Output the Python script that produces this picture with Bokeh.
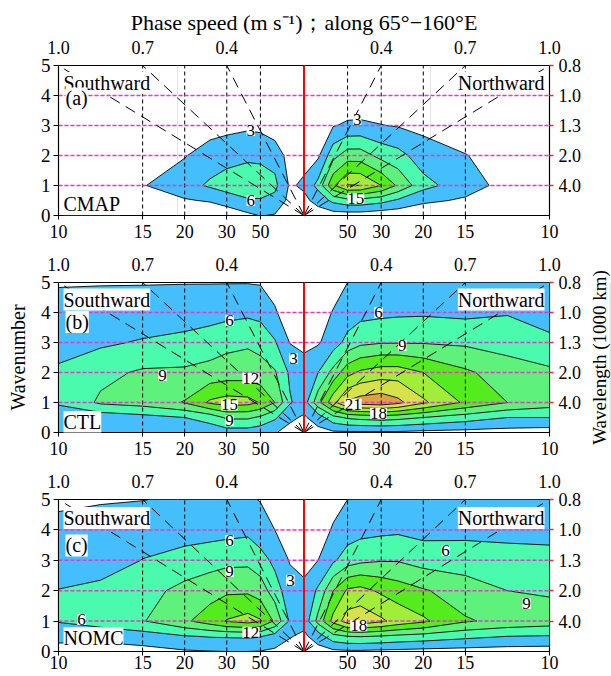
import numpy as np
from bokeh.plotting import figure
from bokeh.layouts import column, row
from bokeh.models import (LinearAxis, FixedTicker, Label, LabelSet,
                          ColumnDataSource, Span, Range1d)
from bokeh.core.properties import value
from bokeh.embed import file_html
from bokeh.resources import INLINE

SERIF = "Liberation Serif"

# ---------------------------------------------------------------- data
# Column periods (days): southward side, the annual cut at the red line,
# northward side.  Rows are meridional wavenumbers.
PERIOD_SOUTH = [10, 12, 15, 20, 25, 30, 40, 50, 70, 120]
PERIOD_CUT = 365
PERIOD_NORTH = [120, 70, 50, 40, 30, 25, 20, 15, 12, 10]
WAVENUMBER = [0, 0.5, 1, 2, 3, 4, 5]

# spectral power, one list per wavenumber row (S10 ... S120, cut, N120 ... N10)
CMAP_POWER = [
    [0.0, 0.0, 0.0, 0.2, 0.3, 1.1, 2.4, 3.1, 2.8, 1.5, 1.5, 1.5, 1.5, 1.5, 1.5, 1.0, 1.0, 0.7, 1.0, 0.5, 0.3],
    [0.5, 0.8, 1.5, 2.7, 3.3, 4.3, 5.6, 5.7, 5.0, 2.2, 2.3, 4.0, 6.8, 8.0, 8.0, 7.0, 5.5, 3.6, 2.6, 1.4, 0.8],
    [1.0, 1.5, 2.8, 5.0, 6.4, 7.4, 8.3, 8.0, 6.8, 2.6, 3.5, 7.0, 14.5, 18.2, 18.0, 15.0, 11.5, 7.0, 4.3, 2.0, 1.0],
    [0.8, 1.2, 2.0, 2.8, 4.6, 4.9, 5.3, 5.2, 4.8, 1.8, 2.0, 2.5, 8.0, 10.5, 10.5, 8.0, 7.0, 4.5, 3.1, 1.8, 1.0],
    [0.5, 0.8, 1.2, 1.5, 1.5, 2.1, 2.5, 2.3, 1.2, 1.0, 1.0, 0.8, 2.8, 3.5, 3.6, 3.1, 2.8, 2.2, 1.5, 1.0, 0.6],
    [0.4, 0.5, 0.6, 0.8, 0.9, 1.0, 1.1, 1.0, 0.7, 0.5, 0.5, 0.3, 0.5, 0.6, 0.6, 0.6, 0.6, 0.6, 0.6, 0.5, 0.4],
    [0.3, 0.3, 0.3, 0.3, 0.3, 0.3, 0.3, 0.3, 0.3, 0.3, 0.3, 0.3, 0.3, 0.3, 0.3, 0.3, 0.3, 0.3, 0.3, 0.3, 0.3],
]
CTL_POWER = [
    [3.3, 3.3, 3.4, 3.8, 4.2, 4.5, 4.5, 4.0, 3.2, 2.0, 1.0, 2.0, 2.5, 2.5, 2.5, 2.5, 2.5, 2.2, 2.0, 1.8, 1.5],
    [4.6, 4.2, 5.0, 6.0, 7.2, 9.5, 9.5, 8.5, 6.5, 3.6, 2.6, 4.5, 8.0, 9.5, 10.0, 10.5, 10.0, 9.0, 7.5, 6.0, 6.0],
    [6.3, 9.5, 10.3, 12.2, 15.5, 16.3, 16.0, 14.8, 12.0, 6.3, 4.5, 11.0, 17.0, 21.5, 22.5, 23.0, 21.8, 18.5, 14.5, 12.0, 10.5],
    [6.8, 8.2, 9.4, 9.5, 10.0, 10.4, 10.5, 10.0, 9.3, 5.5, 3.9, 6.0, 10.0, 14.0, 15.5, 16.5, 16.5, 15.0, 12.5, 10.5, 9.6],
    [4.1, 5.5, 6.3, 6.8, 7.5, 8.2, 8.6, 8.2, 6.3, 2.9, 2.5, 2.7, 4.5, 7.0, 8.3, 8.8, 8.8, 8.8, 8.5, 7.8, 6.6],
    [3.5, 3.8, 4.0, 4.6, 4.8, 5.1, 5.4, 5.0, 3.3, 1.5, 1.0, 1.5, 3.2, 4.2, 5.0, 5.3, 5.5, 5.6, 5.3, 5.8, 4.8],
    [2.9, 2.9, 2.9, 2.9, 2.9, 2.9, 2.9, 2.8, 2.0, 1.0, 0.5, 1.0, 1.5, 3.0, 3.4, 3.5, 3.5, 3.5, 3.5, 3.5, 3.5],
]
NOMC_POWER = [
    [2.0, 1.8, 2.0, 2.7, 2.9, 3.0, 3.0, 2.9, 2.5, 1.8, 1.0, 1.8, 2.3, 2.5, 2.5, 2.3, 2.2, 2.0, 1.8, 1.6, 1.5],
    [3.8, 3.8, 4.6, 5.8, 6.2, 6.3, 6.4, 6.2, 4.8, 3.2, 2.4, 4.5, 8.0, 9.0, 9.2, 8.8, 8.3, 7.8, 6.8, 6.0, 5.8],
    [6.2, 7.5, 8.8, 11.5, 13.5, 15.2, 16.2, 15.3, 11.5, 5.5, 4.0, 10.0, 16.0, 19.5, 20.0, 18.5, 17.0, 15.5, 12.3, 11.2, 10.5],
    [6.1, 7.0, 8.0, 9.8, 10.8, 11.5, 11.5, 10.5, 7.5, 4.2, 3.6, 6.5, 12.0, 15.5, 16.0, 14.5, 13.5, 12.3, 10.5, 9.0, 8.6],
    [4.2, 4.1, 6.1, 7.3, 7.8, 8.2, 8.3, 7.3, 5.2, 2.8, 2.2, 3.0, 5.5, 7.5, 8.3, 8.8, 8.8, 7.8, 7.5, 7.3, 7.0],
    [3.3, 3.5, 4.2, 4.5, 4.8, 5.0, 5.3, 4.0, 3.0, 1.5, 1.0, 1.6, 3.3, 4.5, 5.0, 5.3, 5.5, 5.0, 5.2, 5.0, 5.0],
    [2.8, 2.9, 2.95, 3.3, 3.4, 3.4, 3.3, 2.9, 2.0, 1.0, 0.5, 1.0, 2.0, 3.0, 3.4, 3.4, 3.4, 3.4, 3.3, 3.3, 3.4],
]

LEVELS = [3, 6, 9, 12, 15, 18, 21, 24]
FILL_COLORS = ["#44BEFD", "#4BFBAD", "#5EF17C", "#54EC1E", "#A2EC3A", "#D5E24A", "#DDA13E"]

# contour labels: level, signed period (negative = southward), wavenumber
CMAP_TAGS = ([3, 6, 3, 15], [-42, -42, 42, 43], [2.83, 0.5, 3.2, 0.57])
CTL_TAGS = ([6, 9, 12, 15, 9, 3, 6, 9, 21, 18],
            [-31, -17, -42, -31, -31, -145, 31, 24, 45, 31],
            [3.73, 1.9, 1.8, 0.92, 0.4, 2.47, 4.0, 2.9, 0.95, 0.63])
NOMC_TAGS = ([6, 9, 12, 3, 6, 6, 9, 18],
             [-31, -31, -42, -123, -11, 17, 11, 41],
             [3.65, 2.63, 0.63, 2.34, 1.05, 3.32, 1.58, 0.85])

PERIOD_TICKS = [10, 15, 20, 30, 50]
PERIOD_GUIDES = [15, 20, 30, 50]
PHASE_PERIODS = [10, 15, 30]
PHASE_SPEED_LABELS = ["1.0", "0.7", "0.4"]
WAVELENGTH_WAVENUMBER = [1, 2, 3, 4, 5]
WAVELENGTH_LABELS = ["4.0", "2.0", "1.3", "1.0", "0.8"]


# ------------------------------------------------------------ helpers
def freq_offset(period):
    """Frequency (cpd) measured from the annual cut."""
    return 1.0 / period - 1.0 / PERIOD_CUT


def x_of(signed_period):
    sign = -1.0 if signed_period < 0 else 1.0
    return sign * freq_offset(abs(signed_period))


X_COLS = [x_of(-P) for P in PERIOD_SOUTH] + [0.0] + [x_of(P) for P in PERIOD_NORTH]
X_MIN, X_MAX = X_COLS[0], X_COLS[-1]
FRAME_W = 491
PX = (X_MAX - X_MIN) / FRAME_W      # data units per screen pixel along x


def style_axis(ax, size):
    ax.major_label_text_font = SERIF
    ax.major_label_text_font_size = size
    ax.major_label_text_color = "black"
    ax.axis_label_text_font = SERIF
    ax.axis_label_text_font_style = "normal"
    ax.axis_label_text_color = "black"
    ax.minor_tick_line_color = None
    ax.major_tick_in = 0
    ax.axis_line_color = "black"


def box_label(p, text, x, y, align):
    p.add_layout(Label(x=x, y=y, text=text, text_font=SERIF, text_font_size="20px",
                       text_align=align, text_baseline="top", text_color="black",
                       background_fill_color="white", background_fill_alpha=1.0))


def build_panel(power, tags, tag_text, name, width, height, border_top, border_bottom,
                tick_standoff, title=None, ylabel=None,
                tag_y=4.0, head_y=4.78, name_y=0.76):
    p = figure(width=width, height=height,
               x_range=Range1d(X_MIN, X_MAX), y_range=Range1d(0, 5),
               x_axis_location=None, y_axis_location=None,
               toolbar_location=None, output_backend="svg",
               min_border_left=58, min_border_right=width - 58 - FRAME_W,
               min_border_top=border_top, min_border_bottom=border_bottom)
    p.outline_line_color = "black"
    p.outline_line_width = 1.2
    p.background_fill_color = "white"
    p.border_fill_color = "white"

    # filled power contours
    p.contour(x=X_COLS, y=WAVENUMBER, z=np.array(power, dtype=float),
              levels=LEVELS, fill_color=FILL_COLORS,
              line_color="black", line_width=0.9)

    # period guides
    gx = [x_of(-P) for P in PERIOD_GUIDES] + [x_of(P) for P in PERIOD_GUIDES]
    p.segment(x0=gx, y0=[0] * len(gx), x1=gx, y1=[5] * len(gx),
              line_color="black", line_dash="4 3", line_width=1)
    # wavelength guides
    kk = WAVELENGTH_WAVENUMBER[:-1]
    p.segment(x0=[X_MIN] * len(kk), y0=kk, x1=[X_MAX] * len(kk), y1=kk,
              line_color="#E23BC8", line_dash="4 2", line_width=1.5)
    # constant phase-speed lines from the origin
    ends = [x_of(-P) for P in PHASE_PERIODS] + [x_of(P) for P in PHASE_PERIODS]
    p.segment(x0=[0.0] * len(ends), y0=[0] * len(ends), x1=ends, y1=[5] * len(ends),
              line_color="black", line_dash="11 7", line_width=1)
    p.add_layout(Span(location=0, dimension="height", line_color="red", line_width=2))

    # contour level labels
    lv, per, kw = tags
    src = ColumnDataSource(dict(x=[x_of(s) for s in per], y=kw, t=[str(v) for v in lv]))
    p.add_layout(LabelSet(x="x", y="y", text="t", source=src,
                          text_font=value(SERIF), text_font_size="17px",
                          text_align="center", text_baseline="middle",
                          text_color="black",
                          background_fill_color="white", background_fill_alpha=1.0))

    # panel annotations
    box_label(p, "Southward", X_MIN + 5 * PX, head_y, "left")
    box_label(p, tag_text, X_MIN + 7 * PX, tag_y, "left")
    box_label(p, name, X_MIN + 5 * PX, name_y, "left")
    box_label(p, "Northward", X_MAX - 5 * PX, head_y, "right")

    # bottom axis: period (days)
    tick_x = [x_of(-P) for P in PERIOD_TICKS] + [x_of(P) for P in PERIOD_TICKS[::-1]]
    tick_t = [str(P) for P in PERIOD_TICKS] + [str(P) for P in PERIOD_TICKS[::-1]]
    bottom = LinearAxis(ticker=FixedTicker(ticks=tick_x, minor_ticks=[]),
                        major_label_overrides=dict(zip(tick_x, tick_t)))
    style_axis(bottom, "18px")
    bottom.major_tick_out = 4
    bottom.major_label_standoff = tick_standoff
    p.add_layout(bottom, "below")

    # top axis: phase speed
    top_x = [x_of(-P) for P in PHASE_PERIODS] + [x_of(P) for P in PHASE_PERIODS]
    top_t = PHASE_SPEED_LABELS + PHASE_SPEED_LABELS
    top = LinearAxis(ticker=FixedTicker(ticks=top_x, minor_ticks=[]),
                     major_label_overrides=dict(zip(top_x, top_t)))
    style_axis(top, "18px")
    top.major_tick_out = 0
    top.major_tick_line_color = None
    top.axis_line_color = None
    top.major_label_standoff = 12
    if title:
        top.axis_label = title
        top.axis_label_text_font_size = "22px"
        top.axis_label_standoff = 3
    p.add_layout(top, "above")

    # left axis: wavenumber
    left = LinearAxis(ticker=FixedTicker(ticks=[0, 1, 2, 3, 4, 5], minor_ticks=[]))
    style_axis(left, "19px")
    left.major_tick_out = 5
    left.major_label_standoff = 3
    if ylabel:
        left.axis_label = ylabel
        left.axis_label_text_font_size = "20px"
        left.axis_label_standoff = 9
    p.add_layout(left, "left")

    # right axis: wavelength (1000 km)
    right = LinearAxis(ticker=FixedTicker(ticks=WAVELENGTH_WAVENUMBER, minor_ticks=[]),
                       major_label_overrides=dict(zip(WAVELENGTH_WAVENUMBER, WAVELENGTH_LABELS)))
    style_axis(right, "18px")
    right.major_tick_out = 4
    right.major_tick_line_color = "#F03030"
    right.major_tick_line_width = 1.5
    right.axis_line_color = None
    right.major_label_standoff = 5
    p.add_layout(right, "right")
    return p


def side_title(text, width, height, border):
    """Narrow strip whose (tick-less) left axis carries a title reading bottom to top."""
    s = figure(width=width, height=height, title=None,
               x_range=Range1d(0, 1), y_range=Range1d(0, 1),
               x_axis_location=None, y_axis_location=None, toolbar_location=None,
               output_backend="svg",
               min_border_left=border, min_border_right=0,
               min_border_top=0, min_border_bottom=0)
    s.outline_line_color = None
    s.background_fill_color = "white"
    s.border_fill_color = "white"
    ax = LinearAxis(ticker=FixedTicker(ticks=[], minor_ticks=[]))
    style_axis(ax, "10px")
    ax.axis_line_color = None
    ax.major_tick_line_color = None
    ax.major_tick_out = 0
    ax.major_label_standoff = 0
    ax.axis_label = text
    ax.axis_label_text_font_size = "19px"
    ax.axis_label_standoff = 0
    s.add_layout(ax, "left")
    return s


pa = build_panel(CMAP_POWER, CMAP_TAGS, "(a)", "CMAP", 611, 247, 65, 32, 5,
                 title="Phase speed (m s\u207b\u00b9)\uff1balong 65\u00b0\u2212160\u00b0E",
                 tag_y=4.27, name_y=0.74)
pb = build_panel(CTL_POWER, CTL_TAGS, "(b)", "CTL", 585, 217, 35, 32, 5,
                 ylabel="Wavenumber", tag_y=4.05, head_y=4.8, name_y=0.72)
pb_title = side_title("Wavelength (1000 km)", 26, 217, 24)
pc = build_panel(NOMC_POWER, NOMC_TAGS, "(c)", "NOMC", 611, 212, 35, 25, 0,
                 tag_y=3.85, head_y=4.75, name_y=0.8)

layout = column(pa, row(pb, pb_title, spacing=0), pc, spacing=0)
with open("out.html", "w") as fh:
    fh.write(file_html(layout, INLINE, title="Wavenumber-frequency spectra"))
